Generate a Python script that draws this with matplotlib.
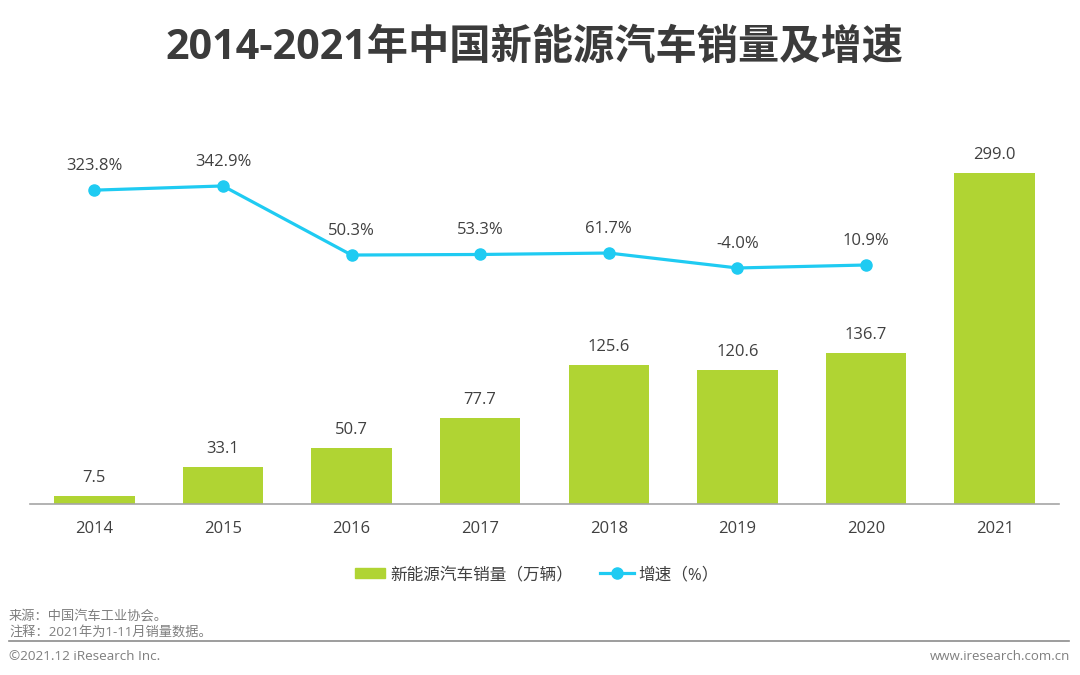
import matplotlib
matplotlib.use("Agg")
import matplotlib.pyplot as plt
from matplotlib.lines import Line2D
from matplotlib.patches import Rectangle

plt.rcParams['font.family'] = ['Open Sans', 'Noto Sans CJK SC', 'DejaVu Sans']

years = ['2014', '2015', '2016', '2017', '2018', '2019', '2020', '2021']
sales = [7.5, 33.1, 50.7, 77.7, 125.6, 120.6, 136.7, 299.0]
growth_labels = ['323.8%', '342.9%', '50.3%', '53.3%', '61.7%', '-4.0%', '10.9%']
# Line heights, expressed on the sales axis
growth_heights = [283.5, 287.3, 224.9, 225.4, 226.7, 213.2, 215.9]

W, H = 1080, 675
GREEN, BLUE, DARK, GREY = '#B0D433', '#1FCBF2', '#404040', '#7F7F7F'
fig = plt.figure(figsize=(W/100, H/100), dpi=100, facecolor='white')
ax = fig.add_axes([30/W, 1-504/H, (1059-30)/W, (504-100)/H])
x = list(range(len(years)))
ax.set_xlim(-0.5, 7.5)
scale = (504-173)/299.0
ax.set_ylim(0, (504-100)/scale)

ax.bar(x, sales, width=0.625, color=GREEN, zorder=2)
ax.plot(x[:7], growth_heights, color=BLUE, lw=2.3, marker='o', ms=8, zorder=3)

for i, v in enumerate(sales):
    ax.annotate(f'{v:.1f}', (i, v), xytext=(0, 10), textcoords='offset pixels',
                ha='center', va='bottom', fontsize=12, color=DARK)
for i, t in enumerate(growth_labels):
    ax.annotate(t, (i, growth_heights[i]), xytext=(0, 16), textcoords='offset pixels',
                ha='center', va='bottom', fontsize=12, color=DARK)

for s in ['top', 'left', 'right']:
    ax.spines[s].set_visible(False)
ax.spines['bottom'].set_color('#A6A6A6')
ax.spines['bottom'].set_linewidth(1.2)
ax.set_yticks([])
ax.set_xticks(x, years)
ax.tick_params(axis='x', length=0, pad=12, labelsize=12, labelcolor=DARK)

fig.text(534/W, 1-48.5/H, '2014-2021年中国新能源汽车销量及增速', ha='center', va='center',
         fontsize=29.7, fontweight='bold', color='#3B3B3B')

# Legend laid out by hand so the swatches sit close to their labels
fig.add_artist(Rectangle((355/W, 1-578/H), 30/W, 10/H, color=GREEN, transform=fig.transFigure))
fig.text(390/W, 1-575/H, '新能源汽车销量（万辆）', fontsize=12, color=DARK, va='center')
fig.add_artist(Line2D([600/W, 634/W], [1-573/H]*2, color=BLUE, lw=2.3))
fig.add_artist(Line2D([617/W], [1-573/H], color=BLUE, marker='o', ms=8))
fig.text(638/W, 1-575/H, '增速（%）', fontsize=12, color=DARK, va='center')

fig.text(9/W, 1-616/H, '来源：中国汽车工业协会。', fontsize=9.5, color=GREY, va='center')
fig.text(9/W, 1-632/H, '注释：2021年为1-11月销量数据。', fontsize=9.5, color=GREY, va='center')
fig.add_artist(Line2D([9/W, 1069/W], [1-640.5/H]*2, color='#8C8C8C', lw=1.2))
fig.text(9/W, 1-656/H, '©2021.12 iResearch Inc.', fontsize=9.7, color=GREY, va='center')
fig.text(1070/W, 1-656/H, 'www.iresearch.com.cn', fontsize=9.5, color=GREY, va='center', ha='right')

fig.savefig('out.png', dpi=100)
